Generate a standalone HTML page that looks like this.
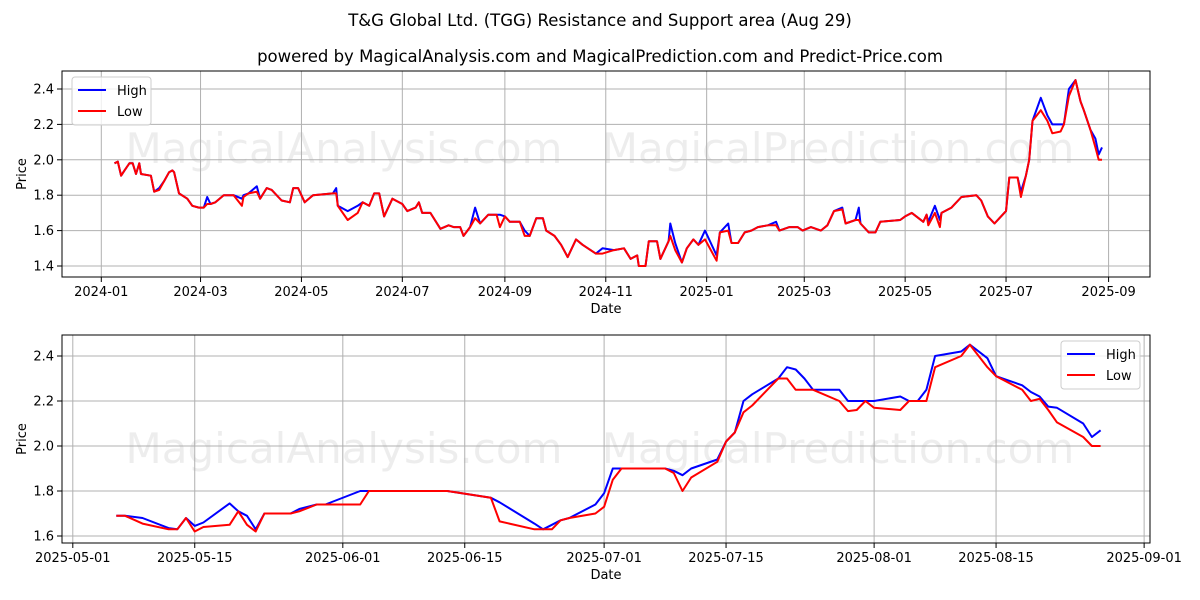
<!DOCTYPE html>
<html><head><meta charset="utf-8"><style>
html,body{margin:0;padding:0;background:#fff;}
svg{display:block;font-family:"DejaVu Sans","Liberation Sans",sans-serif;}
</style></head><body>
<svg id="chart" width="1200" height="600" viewBox="0 0 1200 600">
<text x="600" y="26" text-anchor="middle" font-size="16.5" fill="#000">T&amp;G Global Ltd. (TGG) Resistance and Support area (Aug 29)</text>
<text x="600" y="62" text-anchor="middle" font-size="16.5" fill="#000">powered by MagicalAnalysis.com and MagicalPrediction.com and Predict-Price.com</text>
</svg>
<script>
// ---- Top chart data (days since 2024-01-01) ----
const topDays=[8,10,12,14,17,19,21,23,24,30,32,35,38,41,43,44,47,52,55,59,62,64,66,69,74,80,85,86,89,94,96,100,103,109,114,116,119,123,128,140,142,143,149,155,158,162,165,168,171,176,182,185,190,192,194,199,205,210,213,217,219,223,226,229,234,239,241,244,247,253,256,259,263,267,269,274,278,282,287,291,299,303,310,316,320,324,325,329,331,336,338,343,344,347,351,354,358,361,365,372,374,379,381,385,389,393,397,403,408,410,416,421,424,429,435,439,443,448,450,456,458,459,464,468,471,483,486,490,497,499,500,504,507,508,514,520,529,532,536,540,543,547,549,554,556,559,561,563,568,572,575,580,582,585,589,592,594,598,601,603,605];
const topHigh=[1.98,1.99,1.91,1.94,1.98,1.98,1.92,1.98,1.92,1.91,1.82,1.84,1.88,1.93,1.94,1.93,1.81,1.78,1.74,1.73,1.73,1.79,1.75,1.76,1.80,1.80,1.78,1.80,1.81,1.85,1.78,1.84,1.83,1.77,1.76,1.84,1.84,1.76,1.80,1.81,1.84,1.74,1.71,1.74,1.76,1.74,1.81,1.81,1.68,1.78,1.75,1.71,1.73,1.76,1.70,1.70,1.61,1.63,1.62,1.62,1.57,1.62,1.73,1.64,1.69,1.69,1.69,1.68,1.65,1.65,1.60,1.57,1.67,1.67,1.60,1.57,1.52,1.45,1.55,1.52,1.47,1.50,1.49,1.50,1.44,1.46,1.40,1.40,1.54,1.54,1.44,1.54,1.64,1.53,1.42,1.50,1.55,1.52,1.60,1.46,1.59,1.64,1.53,1.53,1.59,1.60,1.62,1.63,1.65,1.60,1.62,1.62,1.60,1.62,1.60,1.63,1.71,1.73,1.64,1.66,1.73,1.64,1.59,1.59,1.65,1.66,1.68,1.70,1.65,1.69,1.65,1.74,1.66,1.70,1.73,1.79,1.80,1.77,1.68,1.64,1.67,1.71,1.90,1.90,1.82,1.91,2.00,2.22,2.35,2.25,2.20,2.20,2.20,2.40,2.45,2.33,2.28,2.17,2.12,2.03,2.07];
const topLow=[1.98,1.99,1.91,1.94,1.98,1.98,1.92,1.98,1.92,1.91,1.82,1.83,1.88,1.93,1.94,1.93,1.81,1.78,1.74,1.73,1.73,1.75,1.75,1.76,1.80,1.80,1.74,1.79,1.81,1.82,1.78,1.84,1.83,1.77,1.76,1.84,1.84,1.76,1.80,1.81,1.81,1.74,1.66,1.70,1.76,1.74,1.81,1.81,1.68,1.78,1.75,1.71,1.73,1.76,1.70,1.70,1.61,1.63,1.62,1.62,1.57,1.62,1.67,1.64,1.69,1.69,1.62,1.68,1.65,1.65,1.57,1.57,1.67,1.67,1.60,1.57,1.52,1.45,1.55,1.52,1.47,1.47,1.49,1.50,1.44,1.46,1.40,1.40,1.54,1.54,1.44,1.54,1.57,1.49,1.42,1.50,1.55,1.52,1.55,1.43,1.59,1.60,1.53,1.53,1.59,1.60,1.62,1.63,1.63,1.60,1.62,1.62,1.60,1.62,1.60,1.63,1.71,1.72,1.64,1.66,1.66,1.64,1.59,1.59,1.65,1.66,1.68,1.70,1.65,1.69,1.63,1.70,1.62,1.70,1.73,1.79,1.80,1.77,1.68,1.64,1.67,1.71,1.90,1.90,1.79,1.91,2.00,2.22,2.28,2.22,2.15,2.16,2.20,2.36,2.45,2.33,2.28,2.17,2.07,2.00,2.00];
const topXTicks=[0,60,121,182,244,305,366,425,486,547,609];
const topXLabels=["2024-01","2024-03","2024-05","2024-07","2024-09","2024-11","2025-01","2025-03","2025-05","2025-07","2025-09"];
const topYTicks=[1.4,1.6,1.8,2.0,2.2,2.4];
// ---- Bottom chart data (days since 2025-05-01) ----
const botDays=[5,6,8,11,12,13,14,15,18,19,20,21,22,25,26,28,29,33,34,43,48,49,53,54,55,56,57,60,61,62,63,68,69,70,71,74,75,76,77,78,81,82,83,84,85,88,89,90,91,92,95,96,97,98,99,102,103,105,106,109,110,111,112,113,116,117,118];
const botHigh=[1.69,1.69,1.68,1.635,1.63,1.68,1.645,1.66,1.745,1.71,1.69,1.63,1.70,1.70,1.72,1.74,1.74,1.80,1.80,1.80,1.77,1.75,1.655,1.63,1.65,1.67,1.68,1.74,1.79,1.90,1.90,1.90,1.89,1.87,1.90,1.94,2.02,2.06,2.20,2.23,2.30,2.35,2.34,2.30,2.25,2.25,2.20,2.20,2.20,2.20,2.22,2.20,2.20,2.25,2.40,2.42,2.45,2.39,2.31,2.27,2.24,2.22,2.175,2.17,2.10,2.04,2.07];
const botLow=[1.69,1.69,1.655,1.63,1.63,1.68,1.62,1.64,1.65,1.71,1.65,1.62,1.70,1.70,1.71,1.74,1.74,1.74,1.80,1.80,1.77,1.665,1.63,1.63,1.63,1.67,1.68,1.70,1.73,1.85,1.90,1.90,1.88,1.80,1.86,1.93,2.02,2.06,2.15,2.18,2.30,2.30,2.25,2.25,2.25,2.20,2.155,2.16,2.20,2.17,2.16,2.20,2.20,2.20,2.35,2.40,2.45,2.35,2.31,2.25,2.20,2.21,2.16,2.105,2.04,2.00,2.00];
const botXTicks=[0,14,31,45,61,75,92,106,123];
const botXLabels=["2025-05-01","2025-05-15","2025-06-01","2025-06-15","2025-07-01","2025-07-15","2025-08-01","2025-08-15","2025-09-01"];
const botYTicks=[1.6,1.8,2.0,2.2,2.4];

const NS="http://www.w3.org/2000/svg";
const svg=document.getElementById('chart');
function mk(tag,attrs,parent){const e=document.createElementNS(NS,tag);for(const k in attrs)e.setAttribute(k,attrs[k]);(parent||svg).appendChild(e);return e;}

function panel(cfg){
  const {L,R,T,B,x0,xPer,yRef,yRefPx,yPer,xTicks,xLabels,yTicks,days,high,low,legendRight,prefix,wmY}=cfg;
  const sx=d=>x0+d*xPer, sy=v=>yRefPx-(v-yRef)*yPer;
  const g=mk('g',{});
  
  
  // watermarks
  [['MagicalAnalysis.com',(L+R)/2-262],['MagicalPrediction.com',(L+R)/2+232]].forEach((w,i)=>{
    const t=mk('text',{x:w[1],y:wmY,'text-anchor':'middle','font-size':42,fill:'#000','fill-opacity':0.07},g);
    t.textContent=w[0];
    
    
  });
  // grid + ticks
  xTicks.forEach((d,i)=>{
    const x=sx(d);
    const gl=mk('line',{x1:x,x2:x,y1:T,y2:B,stroke:'#b0b0b0','stroke-width':1},g);
    
    
    mk('line',{x1:x,x2:x,y1:B,y2:B+5,stroke:'#000','stroke-width':1},g);
    const t=mk('text',{x:x,y:B+19,'text-anchor':'middle','font-size':13},g);
    t.textContent=xLabels[i];
    
    
  });
  yTicks.forEach(v=>{
    const y=sy(v);
    const gl=mk('line',{x1:L,x2:R,y1:y,y2:y,stroke:'#b0b0b0','stroke-width':1},g);
    
    
    mk('line',{x1:L-5,x2:L,y1:y,y2:y,stroke:'#000','stroke-width':1},g);
    const t=mk('text',{x:L-8,y:y+4.5,'text-anchor':'end','font-size':13},g);
    t.textContent=v.toFixed(1);
    
    
  });
  // series
  const hp=days.map((d,i)=>sx(d).toFixed(1)+','+sy(high[i]).toFixed(1)).join(' ');
  const lp=days.map((d,i)=>sx(d).toFixed(1)+','+sy(low[i]).toFixed(1)).join(' ');
  const hl=mk('polyline',{points:hp,fill:'none',stroke:'#0000ff','stroke-width':2,'stroke-linejoin':'round'},g);
  
  
  const ll=mk('polyline',{points:lp,fill:'none',stroke:'#ff0000','stroke-width':2,'stroke-linejoin':'round'},g);
  
  
  // frame
  const fr=mk('rect',{x:L,y:T,width:R-L,height:B-T,fill:'none',stroke:'#000','stroke-width':1},g);
  
  
  // axis titles
  const xt=mk('text',{x:(L+R)/2,y:B+36,'text-anchor':'middle','font-size':13},g);
  xt.textContent='Date';
  
  
  const yt=mk('text',{x:0,y:0,'text-anchor':'middle','font-size':13,transform:`translate(26,${(T+B)/2}) rotate(-90)`},g);
  yt.textContent='Price';
  
  
  // legend
  const lx=legendRight?R-89:L+10, ly=T+6;
  const lg=mk('g',{},g);
  
  
  mk('rect',{x:lx,y:ly,width:79,height:48,rx:3,fill:'#fff','fill-opacity':0.8,stroke:'#cccccc','stroke-width':1},lg);
  [['High','#0000ff'],['Low','#ff0000']].forEach((e,i)=>{
    const yy=ly+13+i*21;
    const eg=mk('g',{},lg);
    
    
    mk('line',{x1:lx+6,x2:lx+34,y1:yy,y2:yy,stroke:e[1],'stroke-width':2},eg);
    const t=mk('text',{x:lx+45,y:yy+5,'font-size':13},eg);
    t.textContent=e[0];
  });
}
panel({L:62,R:1150,T:71,B:277,x0:101.3,xPer:1.654,yRef:2.4,yRefPx:89,yPer:177,xTicks:topXTicks,xLabels:topXLabels,yTicks:topYTicks,days:topDays,high:topHigh,low:topLow,legendRight:false,prefix:'top',wmY:163});
panel({L:62,R:1150,T:335,B:543,x0:72.8,xPer:8.71,yRef:2.4,yRefPx:356,yPer:225,xTicks:botXTicks,xLabels:botXLabels,yTicks:botYTicks,days:botDays,high:botHigh,low:botLow,legendRight:true,prefix:'bottom',wmY:463});
</script>
</body></html>
